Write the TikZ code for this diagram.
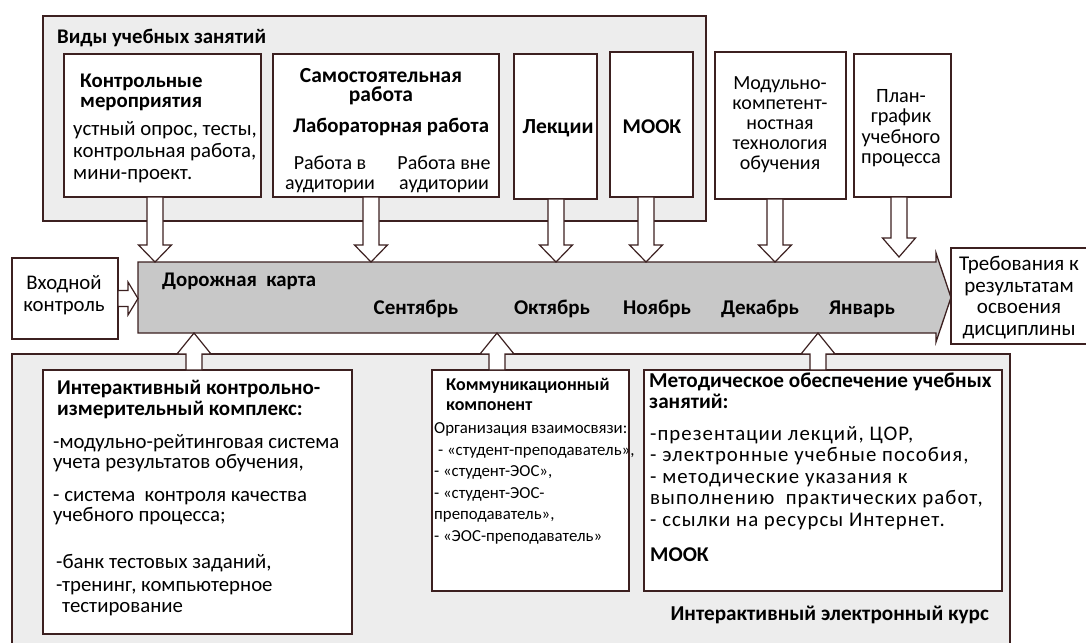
\documentclass[tikz,border=0pt]{standalone}
\usepackage{fontspec}
\setmainfont{Carlito}
\newfontfamily\widefont[LetterSpace=5]{Carlito}
\usetikzlibrary{calc}

\definecolor{edge}{RGB}{60,32,32}
\definecolor{panelgray}{RGB}{237,237,237}
\definecolor{roadgray}{RGB}{200,200,200}

% stacked lines, baseline of the first one, fixed line distance
\newcommand{\lrows}[1]{\vtop{\lineskiplimit=-\maxdimen\let\\\cr\halign{##\hfil\cr#1\crcr}}}
\newcommand{\crows}[1]{\vtop{\lineskiplimit=-\maxdimen\let\\\cr\halign{\hfil##\hfil\cr#1\crcr}}}
\newcommand{\gap}[1]{\noalign{\vskip#1}}

\tikzset{
  box/.style={draw=edge, line width=1.3pt, fill=white, inner sep=0pt, outer sep=0pt},
  panel/.style={box, fill=panelgray},
  txt/.style={inner sep=0pt, anchor=base west, font=\fontsize{20.8}{21.5}\selectfont},
  ctxt/.style={txt, anchor=base},
  hd/.style={txt, font=\fontsize{20.8}{20.5}\selectfont\bfseries},
  chd/.style={hd, anchor=base},
  % hollow block arrow: shaft half width, head half width, head length
  fat/.style n args={3}{draw=edge, line width=1.2pt, fill=white, to path={
    ($(\tikztostart)!#1!90:(\tikztotarget)$)
    -- ($(\tikztotarget)!#3!(\tikztostart)!#1!-90:(\tikztostart)$)
    -- ($(\tikztotarget)!#3!(\tikztostart)!#2!-90:(\tikztostart)$)
    -- (\tikztotarget)
    -- ($(\tikztotarget)!#3!(\tikztostart)!#2!90:(\tikztostart)$)
    -- ($(\tikztotarget)!#3!(\tikztostart)!#1!90:(\tikztostart)$)
    -- ($(\tikztostart)!#1!-90:(\tikztotarget)$) -- cycle}},
}

\begin{document}
\begin{tikzpicture}[x=1pt, y=-1pt]
\useasboundingbox (0,0) rectangle (1086,642);

% panels
\node[panel, minimum width=663pt, minimum height=205pt] (top) at (374.5,118.5) {};
\node[panel, minimum width=998pt, minimum height=296pt] (bottom) at (511,502) {};

% upper boxes
\node[box, minimum width=197pt, minimum height=143pt] (b1) at (162.5,125.5) {};
\node[box, minimum width=226pt, minimum height=143pt] (b2) at (386,125.5) {};
\node[box, minimum width=83pt, minimum height=145pt] (b3) at (555.5,126.5) {};
\node[box, minimum width=83pt, minimum height=145pt] (b4) at (651.5,124.5) {};
\node[box, minimum width=131pt, minimum height=147pt] (b5) at (780.5,125.5) {};
\node[box, minimum width=97pt, minimum height=143pt] (b6) at (902.5,125.5) {};
\node[box, minimum width=106pt, minimum height=81pt] (inp) at (65,298.5) {};
\node[box, minimum width=144pt, minimum height=96pt] (req) at (1023,296) {};

% lower boxes
\node[box, minimum width=309pt, minimum height=264pt] (bA) at (197.5,502) {};
\node[box, minimum width=197pt, minimum height=221pt] (bB) at (530.5,480.5) {};
\node[box, minimum width=358pt, minimum height=221pt] (bC) at (823,480.5) {};

% road map
\node[inner sep=0pt, outer sep=0pt, minimum width=798pt, minimum height=71pt] (rm) at (537,297.5) {};
\draw[draw=edge, line width=1.3pt, fill=roadgray] (rm.north west) -- (rm.north east)
  -- ([yshift=9pt]rm.north east) -- ([xshift=15pt]rm.east)
  -- ([yshift=-9pt]rm.south east) -- (rm.south east) -- (rm.south west) -- cycle;

% arrows down
\draw[fat={8pt}{16.5pt}{17pt}] ([xshift=-7.5pt]b1.south) coordinate (s1) to (s1 |- rm.north);
\draw[fat={8pt}{16.5pt}{17pt}] ([xshift=-15pt]b2.south) coordinate (s2) to (s2 |- rm.north);
\draw[fat={8pt}{16.5pt}{17pt}] ([xshift=0.5pt]b3.south) coordinate (s3) to (s3 |- rm.north);
\draw[fat={8pt}{16.5pt}{17pt}] ([xshift=-5.5pt]b4.south) coordinate (s4) to (s4 |- rm.north);
\draw[fat={8pt}{16.5pt}{17pt}] ([xshift=-5.5pt]b5.south) coordinate (s5) to (s5 |- rm.north);
\draw[fat={8pt}{16.5pt}{19pt}] ([xshift=-3.5pt]b6.south) coordinate (s6) to ([yshift=5pt]s6 |- rm.north);
\draw[fat={8pt}{16.5pt}{10pt}] (inp.east) to (inp.east -| rm.west);

% arrows up
\draw[fat={8pt}{17pt}{21pt}] ([xshift=-3.5pt]bA.north) coordinate (u1) to (u1 |- rm.south);
\draw[fat={8pt}{17pt}{21pt}] ([xshift=-33.5pt]bB.north) coordinate (u2) to (u2 |- rm.south);
\draw[fat={8pt}{17pt}{21pt}] ([xshift=-5pt]bC.north) coordinate (u3) to (u3 |- rm.south);

% texts, top
\node[hd] (ttop) at (57,44) {Виды учебных занятий};
\node[hd] (t1h) at (80,87) {\lrows{Контрольные\\мероприятия}};
\node[txt, font=\fontsize{20.8}{22}\selectfont] (t1) at (73,135) {\lrows{устный опрос, тесты,\\контрольная работа,\\мини-проект.}};
\node[chd, font=\fontsize{21.5}{19.5}\selectfont\bfseries] (t2h) at (381,82) {\crows{Самостоятельная\\работа}};
\node[chd] (t2l) at (391,132) {Лабораторная работа};
\node[ctxt, font=\fontsize{20}{20.5}\selectfont] (t2a) at (330,169) {\crows{Работа в\\аудитории}};
\node[ctxt, font=\fontsize{20}{20.5}\selectfont] (t2b) at (444,169) {\crows{Работа вне\\аудитории}};
\node[chd, font=\fontsize{21.5}{21.5}\selectfont\bfseries] (t3) at (558,133) {Лекции};
\node[chd, font=\fontsize{21}{21}\selectfont\bfseries] (t4) at (652,133) {МООК};
\node[ctxt, font=\fontsize{20}{20}\selectfont] (t5) at (780,89) {\crows{Модульно-\\компетент-\\ностная\\технология\\обучения}};
\node[ctxt, font=\fontsize{20.3}{20.5}\selectfont] (t6) at (901,102) {\crows{План-\\график\\учебного\\процесса}};

% texts, road map
\node[ctxt, font=\fontsize{20.8}{22}\selectfont] (tin) at (64,289) {\crows{Входной\\контроль}};
\node[hd] (trm) at (162,286) {Дорожная~~карта};
\node[chd, font=\fontsize{21}{21}\selectfont\bfseries] (m1) at (416,314) {Сентябрь};
\node[chd, font=\fontsize{21}{21}\selectfont\bfseries] (m2) at (552,314) {Октябрь};
\node[chd, font=\fontsize{21}{21}\selectfont\bfseries] (m3) at (657,314) {Ноябрь};
\node[chd, font=\fontsize{21}{21}\selectfont\bfseries] (m4) at (760,314) {Декабрь};
\node[chd, font=\fontsize{21}{21}\selectfont\bfseries] (m5) at (862,314) {Январь};
\node[ctxt, font=\fontsize{21}{21.5}\selectfont] (treq) at (1019,270.5) {\crows{Требования к\\результатам\\освоения\\дисциплины}};

% texts, bottom
\node[hd, font=\fontsize{21}{21.5}\selectfont\bfseries] (tAh) at (57,394) {\lrows{Интерактивный контрольно-\\измерительный комплекс:}};
\node[txt, font=\fontsize{20.8}{20.5}\selectfont] (tA) at (53,448) {\lrows{-модульно-рейтинговая система\\учета результатов обучения,\\\gap{12pt}
  - система~~контроля качества\\учебного процесса;\\\gap{26pt}
  \hspace{3pt}-банк тестовых заданий,\\\gap{3pt}\hspace{3pt}-тренинг, компьютерное\\\hspace{9pt}тестирование}};
\node[hd, font=\fontsize{18}{20.5}\selectfont\bfseries] (tBh) at (446,390) {\lrows{Коммуникационный\\компонент}};
\node[txt, font=\fontsize{16.8}{21.5}\selectfont] (tB) at (434,433.5) {\lrows{Организация взаимосвязи:\\\hspace{4pt}- «студент-преподаватель»,\\
  - «студент-ЭОС»,\\- «студент-ЭОС-\\преподаватель»,\\- «ЭОС-преподаватель»}};
\node[hd, font=\fontsize{21.2}{21}\selectfont\bfseries] (tCh) at (649,387) {\lrows{Методическое обеспечение учебных\\занятий:}};
\node[txt, font=\widefont\fontsize{20.8}{21.5}\selectfont] (tC) at (650,440) {\lrows{-презентации лекций, ЦОР,\\- электронные учебные пособия,\\
  - методические указания к\\выполнению~~практических работ,\\- ссылки на ресурсы Интернет.}};
\node[hd, font=\fontsize{21}{21}\selectfont\bfseries] (tCm) at (650,561) {МООК};
\node[hd, font=\fontsize{21.2}{21}\selectfont\bfseries, anchor=base east] (tcourse) at (989,620) {Интерактивный электронный курс};
\end{tikzpicture}
\end{document}
